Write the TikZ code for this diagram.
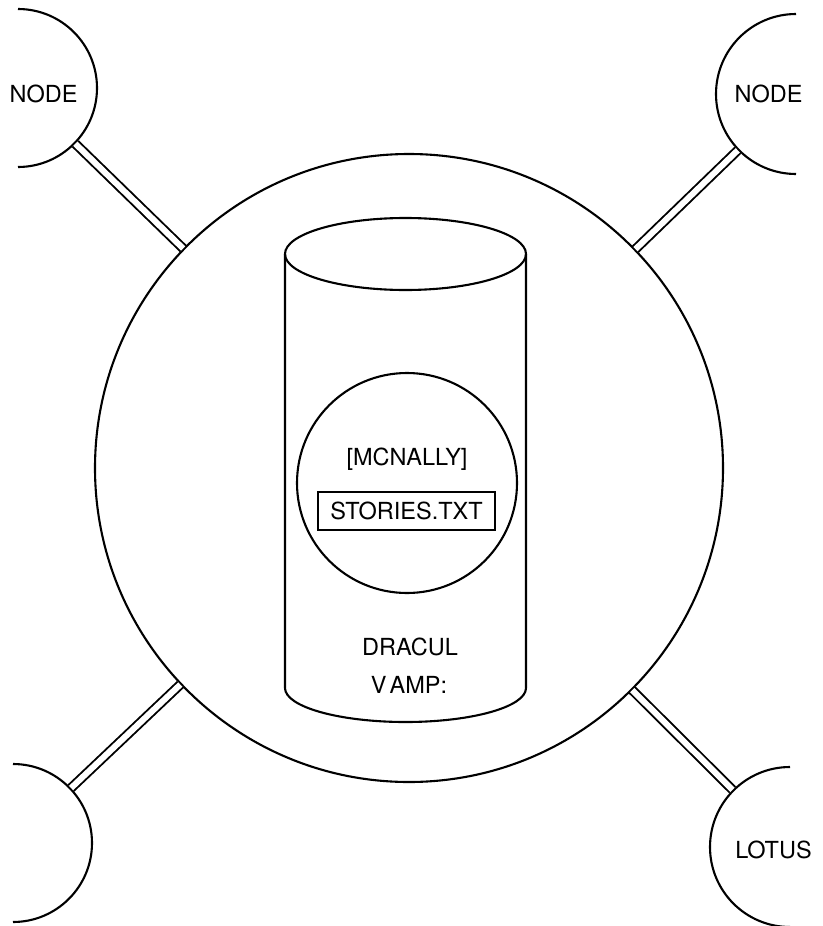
\documentclass[tikz,border=0pt]{standalone}
\usepackage{fontspec}
\setmainfont{TeX Gyre Heros}
\begin{document}
\begin{tikzpicture}[x=1pt,y=-1pt,
  every path/.style={line width=2.1pt},
  lbl/.style={font=\fontsize{23.5}{26}\selectfont, inner sep=0pt, anchor=base},
  site/.style={circle, inner sep=0pt, minimum size=#1, outer sep=1pt},
  link/.style={double, double distance=6pt, line width=1.9pt, line cap=butt},
  filebox/.style={draw, line width=1.7pt, font=\fontsize{23.5}{26}\selectfont, inner sep=0pt,
    minimum width=177pt, minimum height=38pt, text height=16.8pt, text depth=0pt}
]
\useasboundingbox (0,0) rectangle (822,926);

% central cluster
\node[site=628pt, draw] (big) at (409,468) {};

% remote sites (half circles)
\node[site=158pt] (tl) at (18,88) {};
\node[site=160pt] (tr) at (796,94) {};
\node[site=158pt] (bl) at (13,843) {};
\node[site=160pt] (br) at (790,847) {};
\draw (18,9) arc[start angle=90, end angle=-90, radius=79pt];
\draw (796,14) arc[start angle=90, end angle=270, radius=80pt];
\draw (13,764) arc[start angle=90, end angle=-90, radius=79pt];
\draw (790,767) arc[start angle=90, end angle=270, radius=80pt];

% links
\draw[link] (tl) -- (big);
\draw[link] (tr) -- (big);
\draw[link] (bl) -- (big);
\draw[link] (br) -- (big);

% disk cylinder
\draw (405.5,254) ellipse[x radius=120.5pt, y radius=36pt];
\draw (285,254) -- (285,688) arc[start angle=180, end angle=360, x radius=120.5pt, y radius=34pt] -- (526,254);

% directory circle
\node[site=220pt, draw] (dir) at (407,483) {};

% labels
\node[lbl] (n1) at (43.5,102) {NODE};
\node[lbl] (n2) at (768.5,102) {NODE};
\node[lbl] (n3) at (773.5,858) {LOTUS};
\node[lbl] (mc) at (407,465) {[MCNALLY]};
\node[filebox] (st) at (406.5,511) {STORIES.TXT};
\node[lbl] (dr) at (410,655) {DRACUL};
\node[lbl] (vp) at (409,693) {V\kern3pt AMP:};
\end{tikzpicture}
\end{document}
